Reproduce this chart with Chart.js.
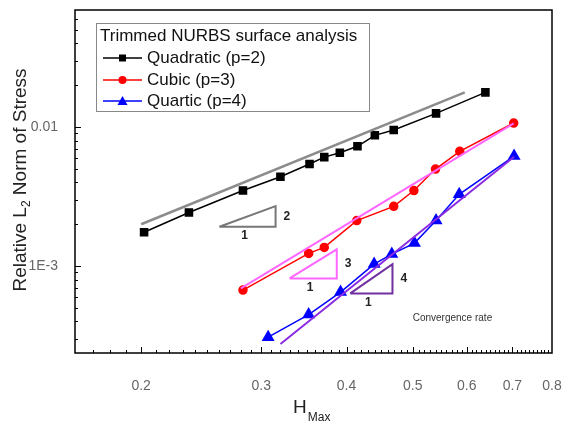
<!DOCTYPE html>
<html>
<head>
<meta charset="utf-8">
<script src="https://cdn.jsdelivr.net/npm/chart.js@4"></script>
<style>
body { margin: 0; background: #fff; }
canvas { display: block; }
</style>
</head>
<body>
<canvas id="chart" width="563" height="430"></canvas>
<script>
// series (H_max, relative L2 error)
const seriesNames = ['Quadratic (p=2)', 'Cubic (p=3)', 'Quartic (p=4)'];
const hMax2 = [0.202, 0.235, 0.282, 0.320, 0.353, 0.371, 0.391, 0.415, 0.440, 0.469, 0.541, 0.639];
const err2 = [0.00175, 0.00243, 0.00350, 0.00439, 0.00542, 0.00608, 0.00653, 0.00727, 0.00872, 0.00952, 0.01255, 0.01776];
const hMax3 = [0.282, 0.352, 0.371, 0.414, 0.469, 0.502, 0.540, 0.586, 0.703];
const err3 = [0.000672, 0.001234, 0.001363, 0.002125, 0.002689, 0.003493, 0.004986, 0.006685, 0.01069];
const hMax4 = [0.307, 0.352, 0.392, 0.439, 0.466, 0.503, 0.541, 0.585, 0.704];
const err4 = [0.000308, 0.000448, 0.00065, 0.001034, 0.00122, 0.001464, 0.002125, 0.00328, 0.006185];

// reference slope lines
const fit2X = [0.200, 0.596];
const fit2Y = [0.00200, 0.01776];
const fit3X = [0.280, 0.703];
const fit3Y = [0.000691, 0.01063];
const fit4X = [0.320, 0.704];
const fit4Y = [0.000275, 0.00611];

// slope triangles
const tri2X = [0.2604, 0.3148, 0.3148, 0.2604];
const tri2Y = [0.001917, 0.001917, 0.0027, 0.001917];
const tri3X = [0.330, 0.387, 0.387, 0.330];
const tri3Y = [0.000815, 0.000815, 0.001319, 0.000815];
const tri4X = [0.405, 0.467, 0.467, 0.405];
const tri4Y = [0.000636, 0.000636, 0.001034, 0.000636];
const rateLabels = ['2', '3', '4'];

// ticks
const xTicks = [0.2, 0.3, 0.4, 0.5, 0.6, 0.7, 0.8];
const xTickLabels = ['0.2', '0.3', '0.4', '0.5', '0.6', '0.7', '0.8'];
const yTicks = [0.001, 0.01];
const yTickLabels = ['1E-3', '0.01'];

const FONT = '"Liberation Sans", Arial, sans-serif';
const toPts = (xs, ys) => xs.map((v, i) => ({x: v, y: ys[i]}));

function line (data, color, width) {
	return {data: data, borderColor: color, borderWidth: width, pointRadius: 0, showLine: true, order: 0};
}

const decorations = {
	id: 'decorations',
	afterDraw (chart) {
		const ctx = chart.ctx;
		const a = chart.chartArea;
		const x = chart.scales.x, y = chart.scales.y;
		ctx.save();

		// inward ticks
		ctx.strokeStyle = '#000';
		ctx.lineWidth = 1;
		ctx.beginPath();
		for (let i = 17; i <= 79; i++) {
			const v = i / 100;
			const px = Math.round (x.getPixelForValue (v)) + 0.5;
			const len = (i % 10 == 0) ? 6 : 3;
			ctx.moveTo (px, a.bottom);
			ctx.lineTo (px, a.bottom - len);
		}
		[1e-4, 1e-3, 1e-2].forEach (dec => {
			for (let m = 1; m <= 9; m++) {
				const v = dec * m;
				if (v < y.min || v > y.max) continue;
				const py = Math.round (y.getPixelForValue (v)) + 0.5;
				const len = (m == 1) ? 6 : 3;
				ctx.moveTo (a.left, py);
				ctx.lineTo (a.left + len, py);
			}
		});
		ctx.stroke ();

		// frame
		ctx.lineWidth = 1.5;
		ctx.strokeRect (a.left, a.top, a.right - a.left, a.bottom - a.top);

		// triangle labels
		ctx.fillStyle = '#222';
		ctx.font = 'bold 12px ' + FONT;
		ctx.textBaseline = 'middle';
		[[tri2X, tri2Y], [tri3X, tri3Y], [tri4X, tri4Y]].forEach ((t, i) => {
			const x0 = x.getPixelForValue (t[0][0]), x1 = x.getPixelForValue (t[0][1]);
			const y0 = y.getPixelForValue (t[1][0]), y1 = y.getPixelForValue (t[1][2]);
			ctx.textAlign = 'center';
			ctx.fillText ('1', (x0 + x1) / 2 - 3, y0 + 9);
			ctx.textAlign = 'left';
			ctx.fillText (rateLabels[i], x1 + 8, (y0 + y1) / 2);
		});

		ctx.font = '10px ' + FONT;
		ctx.fillStyle = '#333';
		ctx.fillText ('Convergence rate', x.getPixelForValue (0.5), y.getPixelForValue (0.00042));

		// legend
		ctx.fillStyle = '#fff';
		ctx.fillRect (96, 23, 273, 88);
		ctx.strokeStyle = '#888';
		ctx.lineWidth = 1;
		ctx.strokeRect (96.5, 23.5, 273, 88);
		ctx.fillStyle = '#111';
		ctx.font = '17px ' + FONT;
		ctx.textAlign = 'left';
		ctx.fillText ('Trimmed NURBS surface analysis', 100, 36);
		const colors = ['#000', '#ff0000', '#0000ff'];
		[58, 80, 101].forEach ((ly, i) => {
			ctx.strokeStyle = colors[i];
			ctx.lineWidth = 1.5;
			ctx.beginPath ();
			ctx.moveTo (103, ly);
			ctx.lineTo (142, ly);
			ctx.stroke ();
			ctx.fillStyle = colors[i];
			ctx.beginPath ();
			if (i == 0) ctx.rect (119, ly - 3.5, 7, 7);
			else if (i == 1) ctx.arc (122.5, ly, 4, 0, Math.PI * 2);
			else { ctx.moveTo (122.5, ly - 5); ctx.lineTo (127.5, ly + 4); ctx.lineTo (117.5, ly + 4); ctx.closePath (); }
			ctx.fill ();
			ctx.fillStyle = '#111';
			ctx.fillText (seriesNames[i], 147, ly);
		});

		// y title with subscript
		ctx.fillStyle = '#222';
		ctx.translate (21, 180);
		ctx.rotate (-Math.PI / 2);
		const big = '19px ' + FONT, small = '12px ' + FONT;
		ctx.font = big;
		const w1 = ctx.measureText ('Relative L').width;
		const w3 = ctx.measureText (' Norm of Stress').width;
		ctx.font = small;
		const w2 = ctx.measureText ('2').width;
		let sx = -(w1 + w2 + w3) / 2;
		ctx.font = big;
		ctx.fillText ('Relative L', sx, 0);
		ctx.font = small;
		ctx.fillText ('2', sx + w1, 6);
		ctx.font = big;
		ctx.fillText (' Norm of Stress', sx + w1 + w2, 0);
		ctx.setTransform (1, 0, 0, 1, 0, 0);

		// x title with subscript
		ctx.font = big;
		ctx.fillText ('H', 293, 408);
		const wh = ctx.measureText ('H').width;
		ctx.font = small;
		ctx.fillText ('Max', 293 + wh + 1, 418);

		ctx.restore ();
	}
};

new Chart (document.getElementById ('chart'), {
	type: 'scatter',
	data: {
		datasets: [
			{label: seriesNames[0], data: toPts (hMax2, err2), borderColor: '#000', backgroundColor: '#000',
				pointStyle: 'rect', pointRadius: 5, borderWidth: 1.5, showLine: true, order: 1},
			{label: seriesNames[1], data: toPts (hMax3, err3), borderColor: '#ff0000', backgroundColor: '#ff0000',
				pointStyle: 'circle', pointRadius: 4, borderWidth: 1.5, showLine: true, order: 1},
			{label: seriesNames[2], data: toPts (hMax4, err4), borderColor: '#0000ff', backgroundColor: '#0000ff',
				pointStyle: 'triangle', pointRadius: 6, borderWidth: 1.5, showLine: true, order: 1},
			line (toPts (fit2X, fit2Y), '#8c8c8c', 2.5),
			line (toPts (fit3X, fit3Y), '#ff66ff', 2),
			line (toPts (fit4X, fit4Y), '#8a2be2', 2),
			line (toPts (tri2X, tri2Y), '#777777', 2),
			line (toPts (tri3X, tri3Y), '#ff66ff', 2),
			line (toPts (tri4X, tri4Y), '#7030a0', 2)
		]
	},
	options: {
		responsive: false,
		animation: false,
		devicePixelRatio: 1,
		layout: {padding: {top: 10, right: 11, left: 0, bottom: 0}},
		plugins: {legend: {display: false}, tooltip: {enabled: false}},
		elements: {line: {tension: 0}},
		scales: {
			x: {
				type: 'logarithmic', min: 0.16, max: 0.8,
				afterBuildTicks: s => { s.ticks = xTicks.map (v => ({value: v})); },
				afterFit: s => { s.height = 77; s.paddingLeft = 0; s.paddingRight = 0; },
				grid: {display: false},
				border: {display: false},
				ticks: {
					autoSkip: false, maxRotation: 0, padding: 17, color: '#666',
					font: {size: 14, family: FONT},
					callback: (v, i) => xTickLabels[i]
				}
			},
			y: {
				type: 'logarithmic', min: 0.000237, max: 0.0695,
				afterBuildTicks: s => { s.ticks = yTicks.map (v => ({value: v})); },
				afterFit: s => { s.width = 75; s.paddingTop = 0; s.paddingBottom = 0; },
				grid: {display: false},
				border: {display: false},
				ticks: {
					autoSkip: false, padding: 9, color: '#666',
					font: {size: 14, family: FONT},
					callback: (v, i) => yTickLabels[i]
				}
			}
		}
	},
	plugins: [decorations]
});
</script>
</body>
</html>
